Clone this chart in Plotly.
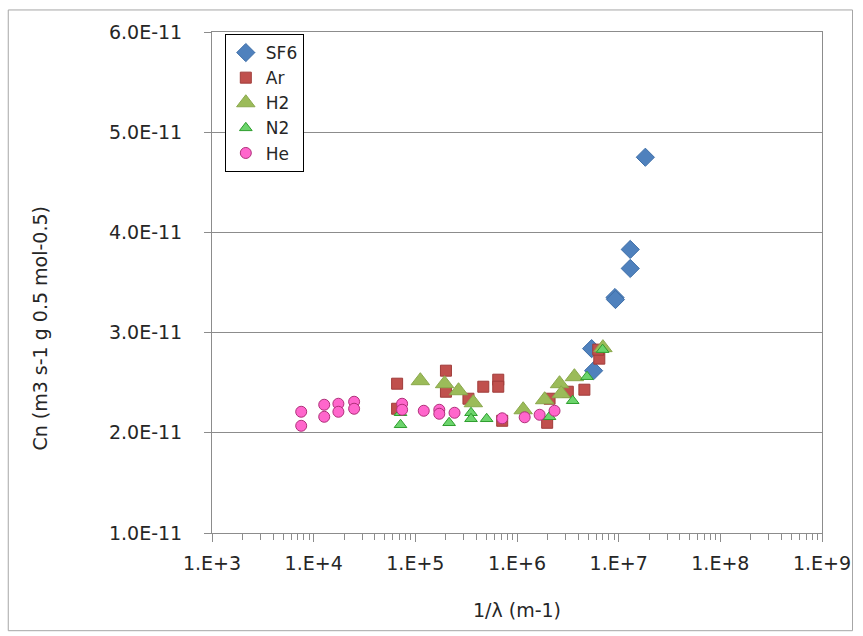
import plotly.graph_objects as go

# ---- data ----
sf6_x = [1.83e7, 1.30e7, 1.30e7, 9.2e6, 9.3e6, 5.42e6, 5.67e6]
sf6_y = [4.75e-11, 3.83e-11, 3.64e-11, 3.35e-11, 3.33e-11, 2.84e-11, 2.62e-11]

ar_x = [6.62e4, 6.62e4, 2.00e5, 2.00e5, 3.33e5, 4.66e5, 6.54e5, 6.54e5, 7.15e5,
        1.98e6, 2.09e6, 3.16e6, 4.60e6, 6.45e6, 6.3e6]
ar_y = [2.49e-11, 2.24e-11, 2.62e-11, 2.41e-11, 2.34e-11, 2.46e-11, 2.53e-11, 2.46e-11, 2.12e-11,
        2.10e-11, 2.34e-11, 2.41e-11, 2.43e-11, 2.74e-11, 2.83e-11]

h2_x = [1.12e5, 1.94e5, 2.66e5, 3.72e5, 1.15e6, 1.87e6, 2.62e6, 2.72e6, 3.67e6, 7.0e6]
h2_y = [2.52e-11, 2.49e-11, 2.42e-11, 2.30e-11, 2.23e-11, 2.33e-11, 2.49e-11, 2.39e-11, 2.56e-11, 2.85e-11]

n2_x = [7.15e4, 7.15e4, 2.15e5, 3.53e5, 3.53e5, 5.03e5, 2.09e6, 3.53e6, 4.88e6, 6.95e6]
n2_y = [2.08e-11, 2.20e-11, 2.10e-11, 2.20e-11, 2.14e-11, 2.14e-11, 2.16e-11, 2.32e-11, 2.56e-11, 2.83e-11]

he_x = [7.54e3, 7.54e3, 1.27e4, 1.27e4, 1.75e4, 1.75e4, 2.50e4, 2.50e4, 7.41e4, 7.41e4,
        1.21e5, 1.72e5, 1.72e5, 2.43e5, 7.15e5, 1.19e6, 1.67e6, 2.34e6]
he_y = [2.21e-11, 2.07e-11, 2.28e-11, 2.16e-11, 2.29e-11, 2.21e-11, 2.31e-11, 2.24e-11, 2.29e-11, 2.23e-11,
        2.22e-11, 2.23e-11, 2.19e-11, 2.20e-11, 2.145e-11, 2.155e-11, 2.18e-11, 2.22e-11]

x_tickvals = [1e3, 1e4, 1e5, 1e6, 1e7, 1e8, 1e9]
x_ticktext = ["1.E+3", "1.E+4", "1.E+5", "1.E+6", "1.E+7", "1.E+8", "1.E+9"]
y_tickvals = [1e-11, 2e-11, 3e-11, 4e-11, 5e-11, 6e-11]
y_ticktext = ["1.0E-11", "2.0E-11", "3.0E-11", "4.0E-11", "5.0E-11", "6.0E-11"]

# minor tick positions (2..9 within each decade)
x_minor = [m * d for d in x_tickvals[:-1] for m in range(2, 10)]

FONT = "DejaVu Sans"
GRID = "#8c8c8c"
TXT = "#262626"

fig = go.Figure()
fig.add_trace(go.Scatter(x=sf6_x, y=sf6_y, mode="markers", name="SF6",
                         marker=dict(symbol="diamond", size=14, color="#4F81BD",
                                     line=dict(color="#3F6FA8", width=1))))
fig.add_trace(go.Scatter(x=ar_x, y=ar_y, mode="markers", name="Ar",
                         marker=dict(symbol="square", size=11, color="#C0504D",
                                     line=dict(color="#A03C3A", width=1))))
fig.add_trace(go.Scatter(x=h2_x, y=h2_y, mode="markers", name="H2",
                         marker=dict(symbol="triangle-up", size=16, color="#9BBB59",
                                     line=dict(color="#8AA84C", width=1))))
fig.add_trace(go.Scatter(x=n2_x, y=n2_y, mode="markers", name="N2",
                         marker=dict(symbol="triangle-up", size=11, color="#6CD46C",
                                     line=dict(color="#2E9E2E", width=1))))
fig.add_trace(go.Scatter(x=he_x, y=he_y, mode="markers", name="He",
                         marker=dict(symbol="circle", size=11, color="#FF66CC",
                                     line=dict(color="#B0307A", width=1))))

fig.update_layout(
    width=863, height=636,
    margin=dict(l=212, r=37, t=32, b=103),
    paper_bgcolor="white", plot_bgcolor="white",
    font=dict(family=FONT, size=19, color=TXT),
    showlegend=True,
    legend=dict(x=0.021, y=0.996, xanchor="left", yanchor="top",
                bgcolor="white", bordercolor="black", borderwidth=1,
                font=dict(family=FONT, size=17, color=TXT),
                itemwidth=30, tracegroupgap=0),
    xaxis=dict(type="log", range=[3, 9], tickvals=x_tickvals, ticktext=x_ticktext,
               showgrid=False, zeroline=False,
               showline=True, linecolor=GRID, linewidth=1, mirror=True,
               ticks="outside", ticklen=8, tickcolor=GRID,
               minor=dict(ticks="outside", ticklen=6, tickcolor=GRID,
                          tickvals=x_minor, showgrid=False),
               ticklabelstandoff=5,
               tickfont=dict(family=FONT, size=19, color=TXT),
               title=dict(text="1/λ (m-1)", standoff=30, font=dict(family=FONT, size=19, color=TXT))),
    yaxis=dict(range=[1e-11, 6e-11], tickvals=y_tickvals, ticktext=y_ticktext,
               showgrid=True, gridcolor=GRID, gridwidth=1, zeroline=False,
               showline=True, linecolor=GRID, linewidth=1, mirror=True,
               ticks="outside", ticklen=7, tickcolor=GRID,
               ticklabelstandoff=18,
               tickfont=dict(family=FONT, size=19, color=TXT)),
    annotations=[dict(text="Cn (m3 s-1 g 0.5 mol-0.5)", textangle=-90,
                      xref="paper", yref="paper", x=-0.282, y=0.41,
                      xanchor="center", yanchor="middle", showarrow=False,
                      font=dict(family=FONT, size=19, color=TXT))],
    shapes=[dict(type="rect", xref="paper", yref="paper",
                 x0=-0.334, x1=1.050, y0=-0.195, y1=1.044,
                 line=dict(color="#a6a6a6", width=1), fillcolor="rgba(0,0,0,0)",
                 layer="below")],
)

fig.write_html("out.html", config={"displayModeBar": False},
               post_script="document.body.style.margin='0';")
